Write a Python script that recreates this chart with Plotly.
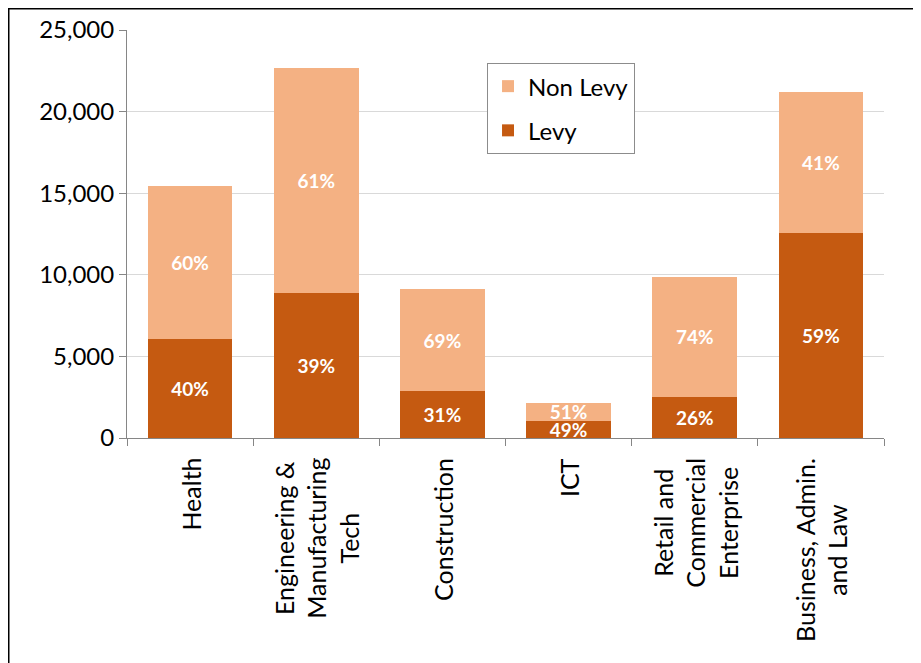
import plotly.graph_objects as go

categories = [
    "Health",
    "Engineering &<br>Manufacturing<br>Tech",
    "Construction",
    "ICT",
    "Retail and<br>Commercial<br>Enterprise",
    "Business, Admin.<br>and Law",
]
levy = [6050, 8880, 2850, 1050, 2500, 12550]
non_levy = [9400, 13800, 6300, 1100, 7380, 8650]
levy_labels = ["40%", "39%", "31%", "49%", "26%", "59%"]
non_levy_labels = ["60%", "61%", "69%", "51%", "74%", "41%"]

FONT = "Lato"
label_font = dict(color="white", size=19, family=FONT, weight="bold")

fig = go.Figure()
fig.add_trace(go.Bar(
    x=categories, y=levy, name="Levy", legendgroup="levy", legendrank=2,
    marker_color="#C55A11", marker_line_width=0,
    text=levy_labels, textposition="inside", insidetextanchor="middle",
    constraintext="none", textfont=label_font,
))
fig.add_trace(go.Bar(
    x=categories, y=non_levy, name="Non Levy", legendgroup="non", legendrank=1,
    marker_color="#F4B183", marker_line_width=0,
    text=non_levy_labels, textposition="inside", insidetextanchor="middle",
    constraintext="none", textfont=label_font,
))

# rotated category labels with centred lines (tick labels would be end-aligned)
for cat in categories:
    fig.add_annotation(
        x=cat, xref="x", y=0, yref="paper",
        text=cat, textangle=-90, align="center",
        xanchor="center", yanchor="top", yshift=-18,
        showarrow=False, font=dict(size=25, family=FONT, color="black"),
    )

# page has an 8px body margin, so the figure is sized to fit inside it
fig.update_layout(
    barmode="stack",
    bargap=0.33,
    width=913, height=655,
    margin=dict(l=119, r=37, t=22, b=225),
    paper_bgcolor="white", plot_bgcolor="white",
    font=dict(family=FONT, color="black"),
    showlegend=True,
    legend=dict(
        traceorder="grouped",
        x=0.4756, y=0.919, xanchor="left", yanchor="top",
        bordercolor="#8c8c8c", borderwidth=1,
        font=dict(size=24, family=FONT),
        tracegroupgap=10,
    ),
    shapes=[dict(
        type="rect", xref="paper", yref="paper",
        x0=-0.1562, x1=1.0436, y0=-0.65, y1=1.052,
        line=dict(color="black", width=1.5),
    )],
)

fig.update_xaxes(
    automargin=False, showticklabels=False,
    showline=True, linecolor="#868686", linewidth=1,
    ticks="outside", tickson="boundaries", ticklen=7, tickcolor="#868686",
)
fig.update_yaxes(
    automargin=False,
    range=[0, 25000], dtick=5000, tickformat=",",
    showline=True, linecolor="#868686", linewidth=1,
    ticks="outside", ticklen=7, tickcolor="#868686",
    showgrid=True, gridcolor="#d9d9d9", gridwidth=1,
    zeroline=False,
    tickfont=dict(size=24, family=FONT),
)

fig.write_html("out.html")
